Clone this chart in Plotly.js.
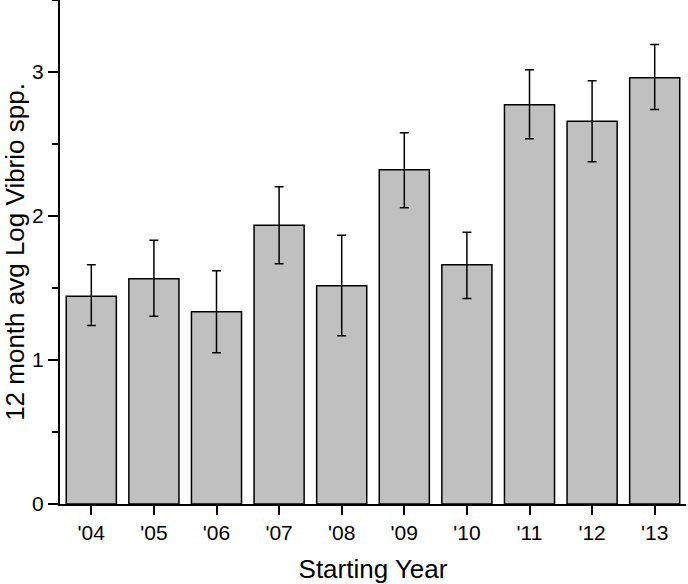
<!DOCTYPE html>
<html>
<head>
<meta charset="utf-8">
<script src="https://cdn.plot.ly/plotly-3.0.1.min.js"></script>
<style>
  html, body { margin: 0; padding: 0; background: #fff; }
  #chart { width: 688px; height: 584px; }
</style>
</head>
<body>
<div id="chart"></div>
<script>
// values
const years = ["'04", "'05", "'06", "'07", "'08", "'09", "'10", "'11", "'12", "'13"];
const means = [1.443, 1.564, 1.335, 1.936, 1.515, 2.321, 1.661, 2.772, 2.658, 2.960];
const errUp = [0.218, 0.268, 0.284, 0.267, 0.352, 0.257, 0.227, 0.243, 0.281, 0.231];
const errDown = [0.203, 0.260, 0.285, 0.268, 0.347, 0.264, 0.234, 0.236, 0.282, 0.220];

const font = 'Liberation Sans, Arial, sans-serif';

const trace = {
  type: 'bar',
  x: years,
  y: means,
  marker: { color: '#c0c0c0', line: { color: '#000', width: 1.5 } },
  error_y: {
    type: 'data',
    symmetric: false,
    array: errUp,
    arrayminus: errDown,
    color: '#000',
    thickness: 1.5,
    width: 4.5
  },
  hoverinfo: 'none'
};

const layout = {
  width: 688,
  height: 584,
  margin: { l: 60, r: 2, t: 0, b: 80 },
  paper_bgcolor: '#fff',
  plot_bgcolor: '#fff',
  showlegend: false,
  bargap: 0.2,
  font: { family: font, color: '#000', size: 21 },
  xaxis: {
    type: 'category',
    range: [-0.5, 9.5],
    showline: true,
    linecolor: '#000',
    linewidth: 2,
    ticks: 'outside',
    ticklen: 9,
    tickwidth: 2,
    tickcolor: '#000',
    showgrid: false,
    zeroline: false,
    tickfont: { size: 21 },
    title: { text: 'Starting Year', font: { size: 26 }, standoff: 17 }
  },
  yaxis: {
    range: [0, 3.5],
    tickvals: [0, 1, 2, 3],
    showline: true,
    linecolor: '#000',
    linewidth: 2,
    ticks: 'outside',
    ticklen: 10,
    tickwidth: 2,
    tickcolor: '#000',
    showgrid: false,
    zeroline: false,
    tickfont: { size: 21 },
    minor: { tickvals: [0.5, 1.5, 2.5, 3.5], ticks: 'outside', ticklen: 6, tickwidth: 2, tickcolor: '#000', showgrid: false },
    title: { text: '12 month avg Log Vibrio spp.', font: { size: 26 }, standoff: 4 }
  }
};

Plotly.newPlot('chart', [trace], layout, { displayModeBar: false, staticPlot: true });
</script>
</body>
</html>
